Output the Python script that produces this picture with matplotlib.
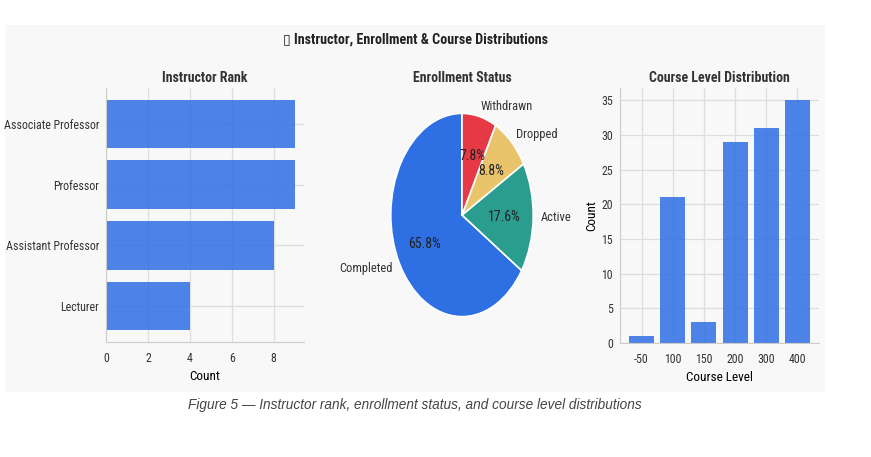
import matplotlib
matplotlib.use("Agg")
import matplotlib.pyplot as plt
from matplotlib import font_manager
from matplotlib.patches import Rectangle

# data
ranks = ["Associate Professor", "Professor", "Assistant Professor", "Lecturer"]
rank_counts = [9, 9, 8, 4]

status_labels = ["Completed", "Active", "Dropped", "Withdrawn"]
status_share = [65.8, 17.6, 8.8, 7.8]
status_colors = ["#2f6fe4", "#2a9d8f", "#e9c46a", "#e63946"]

course_levels = ["-50", "100", "150", "200", "300", "400"]
course_counts = [1, 21, 3, 29, 31, 35]

# the reference looks horizontally squeezed, so prefer a narrow face
names = {f.name for f in font_manager.fontManager.ttflist}
narrow = "DejaVu Sans"
for cand in ["DejaVu Sans Condensed", "Liberation Sans Narrow", "Roboto Condensed"]:
    if cand in names:
        narrow = cand
        break

plt.rcParams["font.family"] = [narrow, "DejaVu Sans"]
plt.rcParams["text.color"] = "#333333"

bg = "#f8f8f8"
bar_blue = "#2f6fe4"
grid_c = "#dedede"

fig = plt.figure(figsize=(8.71, 4.57), dpi=100)
fig.patch.set_facecolor("white")
fig.patches.append(Rectangle((5 / 871, 1 - 392 / 457), 820 / 871, 367 / 457,
                             transform=fig.transFigure, facecolor=bg,
                             edgecolor="none", zorder=-10))


def style_axes(ax):
    ax.set_facecolor(bg)
    for side in ["top", "right"]:
        ax.spines[side].set_visible(False)
    for side in ["left", "bottom"]:
        ax.spines[side].set_color("#cccccc")
    ax.grid(True, color=grid_c, linewidth=0.9)
    ax.set_axisbelow(True)
    ax.tick_params(length=0, labelsize=8.6, colors="#333333")
    ax.tick_params(axis="x", pad=7)
    ax.tick_params(axis="y", pad=5)


# instructor rank
ax1 = fig.add_axes([106 / 871, 1 - 342 / 457, 198 / 871, 254 / 457])
style_axes(ax1)
ax1.barh(ranks[::-1], rank_counts[::-1], height=0.8, color=bar_blue, alpha=0.85)
ax1.set_xticks([0, 2, 4, 6, 8])
ax1.set_xlabel("Count", fontsize=9.5, labelpad=4)
ax1.set_title("Instructor Rank", fontsize=10, fontweight="bold", pad=4)

# enrollment status
ax2 = fig.add_axes([373 / 871, 1 - 342 / 457, 178 / 871, 254 / 457])
wedges, texts, autotexts = ax2.pie(status_share, labels=status_labels, colors=status_colors,
                                   startangle=90, autopct="%1.1f%%",
                                   wedgeprops={"edgecolor": "white", "linewidth": 1.2},
                                   textprops={"fontsize": 9, "color": "#333333"})
for t in autotexts:
    t.set_fontsize(10)
    t.set_color("#222222")
ax2.set_aspect("auto")
ax2.set_xlim(-1.25, 1.25)
ax2.set_ylim(-1.25, 1.25)
ax2.set_title("Enrollment Status", fontsize=10, fontweight="bold", pad=4)

# course level distribution
ax3 = fig.add_axes([620 / 871, 1 - 343 / 457, 199 / 871, 255 / 457])
style_axes(ax3)
ax3.bar(course_levels, course_counts, width=0.8, color=bar_blue, alpha=0.85)
ax3.set_yticks(range(0, 36, 5))
ax3.set_xlabel("Course Level", fontsize=9.5, labelpad=4)
ax3.set_ylabel("Count", fontsize=9.5, labelpad=2)
ax3.set_title("Course Level Distribution", fontsize=10, fontweight="bold", pad=4)

fig.text(415 / 871, 1 - 40 / 457, "\u25af Instructor, Enrollment & Course Distributions",
         ha="center", va="center", fontsize=10.2, fontweight="bold", color="#222222")

fig.text(415 / 871, 1 - 405 / 457,
         "Figure 5 \u2014 Instructor rank, enrollment status, and course level distributions",
         ha="center", va="center", fontsize=9.8, style="italic", color="#444444",
         family=["Liberation Sans", "DejaVu Sans"])

fig.savefig("out.png", dpi=100)
